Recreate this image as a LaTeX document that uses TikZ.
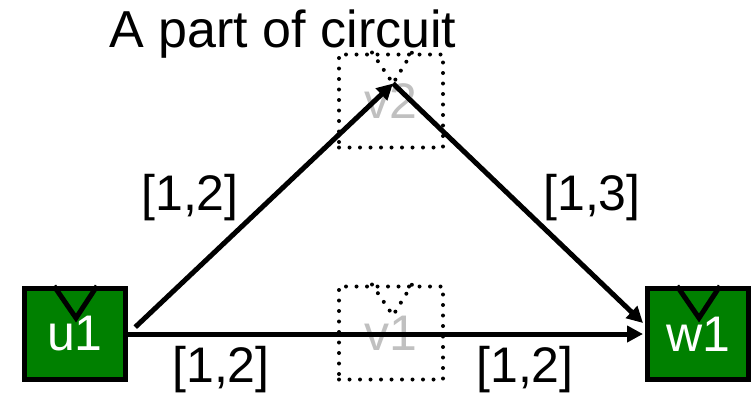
\documentclass[tikz,border=0pt]{standalone}
\usepackage{fontspec}
\setmainfont{Liberation Sans}
\usetikzlibrary{arrows.meta,positioning,calc}
\definecolor{gate}{RGB}{0,128,0}
\definecolor{faint}{RGB}{192,192,192}

\begin{document}
\begin{tikzpicture}[x=1pt,y=-1pt,font=\fontsize{50}{60}\selectfont,
  cell/.style={draw=black,line width=5pt,fill=gate,text=white,inner sep=0pt,minimum width=101pt,minimum height=91pt},
  ghost/.style={draw=black,line width=4pt,line cap=round,dash pattern=on 0pt off 10.5pt,text=faint,inner sep=0pt,minimum width=104pt,minimum height=93pt},
  wire/.style={line width=5pt,-{Triangle[length=16pt,width=16pt]}}]
\useasboundingbox (0,0) rectangle (751,400);
\node[anchor=base,font=\fontsize{52}{60}\selectfont] (title) at (283,47) {A part of circuit};
\node[cell] (u1) at (75,334) {u1};
\node[cell] (w1) at (698,334) {w1};
\node[ghost] (v2) at (391,101) {v2};
\node[ghost] (v1) at (391,333) {v1};
% notches on top of each cell
\foreach \n in {u1,w1}
  \draw[line width=5pt] ($(\n.north)+(-21,0)$) -- ($(\n.north)+(1,32)$) -- ($(\n.north)+(22,0)$);
\foreach \n in {v1,v2}
  \draw[line width=4pt,line cap=round,dash pattern=on 0pt off 10.5pt] ($(\n.north)+(-19,0)$) -- ($(\n.north)+(2,31)$) -- ($(\n.north)+(21,0)$);
\coordinate (v2in) at ($(v2.north)+(2,31)$);
\coordinate (w1in) at ($(w1.west)+(-2,-11)$);
\draw[wire,shorten <=10pt] (u1.east) -- (v2in);
\draw[wire] (v2in) -- (w1in);
\draw[wire,shorten >=2pt] (u1.east) -- (w1.west);
\node[anchor=base] (la) at (190,210) {[1,2]};
\node[anchor=base] (lb) at (592,210) {[1,3]};
\node[anchor=base] (lc) at (221,382) {[1,2]};
\node[anchor=base] (ld) at (525,382) {[1,2]};
\end{tikzpicture}
\end{document}
